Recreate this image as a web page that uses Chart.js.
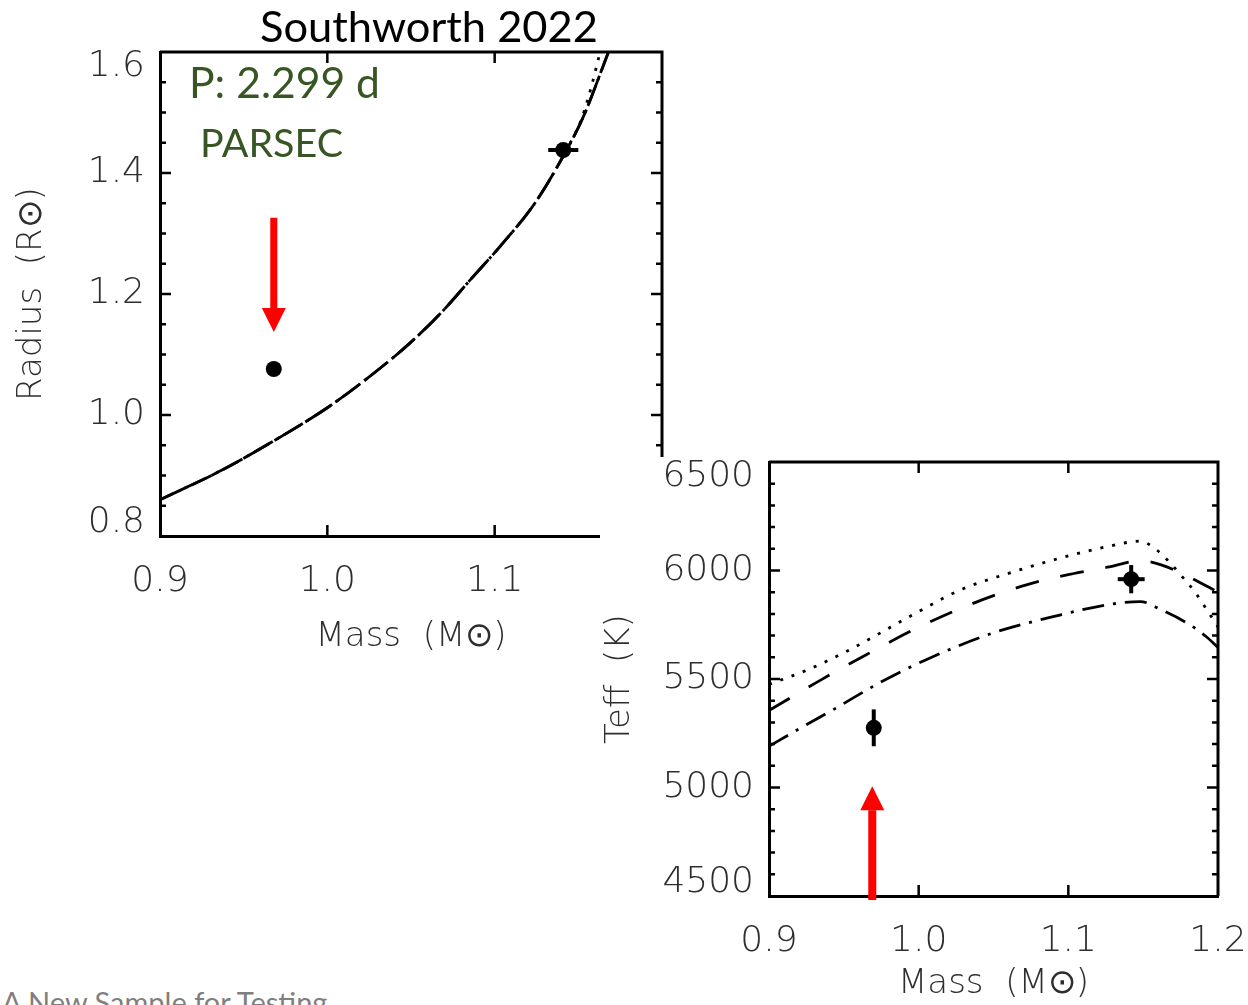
<!DOCTYPE html>
<html>
<head>
<meta charset="utf-8">
<script src="https://cdn.jsdelivr.net/npm/chart.js@4.4.0/dist/chart.umd.min.js"></script>
<style>
  html, body { margin: 0; padding: 0; background: #fff; }
  body { width: 1248px; height: 1005px; position: relative; overflow: hidden; }
  #radiusChart { position: absolute; left: 0; top: 0; }
  #teffChart { position: absolute; left: 600px; top: 420px; }
  #footer { position: absolute; left: 2px; top: 987px; font-family: Lato, 'Open Sans', sans-serif;
            font-size: 29px; line-height: 1; color: #7f7f7f; white-space: nowrap; }
</style>
</head>
<body>
<canvas id="radiusChart" width="700" height="680"></canvas>
<canvas id="teffChart" width="648" height="585"></canvas>
<div id="footer">A New Sample for Testing</div>
<script>
// ---- Radius panel (left) ----
const radiusModelMass = [0.900, 0.935, 0.966, 1.000, 1.025, 1.049, 1.069, 1.085, 1.103, 1.124, 1.142, 1.153, 1.168];
const radiusModel     = [0.860, 0.906, 0.954, 1.012, 1.063, 1.118, 1.172, 1.222, 1.278, 1.350, 1.433, 1.493, 1.600];
const radiusTailMass  = [1.142, 1.152, 1.158, 1.163];
const radiusTail      = [1.433, 1.490, 1.545, 1.600];
const radiusObsMass    = [0.968, 1.141];
const radiusObs        = [1.076, 1.438];
const radiusObsMassErr = [0, 0.009];
const radiusObsErr     = [0, 0.004];
const radiusArrow      = [0.968, 1.326, 1.137];   // mass, tail, tip

// ---- Teff panel (right) ----
const teffDottedMass  = [0.900, 0.926, 0.954, 0.994, 1.028, 1.061, 1.095, 1.126, 1.148, 1.159, 1.168, 1.176, 1.185, 1.192, 1.200];
const teffDotted      = [5475, 5543, 5635, 5788, 5911, 5989, 6058, 6110, 6135, 6095, 6035, 5972, 5897, 5825, 5740];
const teffDashMass    = [0.900, 0.933, 0.965, 0.999, 1.034, 1.072, 1.103, 1.126, 1.148, 1.162, 1.182, 1.200];
const teffDash        = [5355, 5489, 5612, 5735, 5842, 5934, 5985, 6015, 6045, 6026, 5966, 5900];
const teffDashDotMass = [0.900, 0.923, 0.943, 0.974, 1.005, 1.050, 1.095, 1.126, 1.148, 1.162, 1.179, 1.192, 1.200];
const teffDashDot     = [5190, 5282, 5359, 5483, 5589, 5713, 5796, 5842, 5857, 5819, 5759, 5696, 5645];
const teffObsMass    = [0.970, 1.142];
const teffObs        = [5275, 5960];
const teffObsMassErr = [0, 0.009];
const teffObsErr     = [85, 65];
const teffArrow      = [0.969, 4486, 5006];

const massTicks = [0.9, 1.0, 1.1, 1.2];

const tickFont = { family: "'DejaVu Sans'", size: 36, weight: 200 };
const titleFont = { family: "'DejaVu Sans'", size: 34, weight: 200 };
const inkGray = '#2e2e2e';

function xy(xs, ys) { return xs.map((x, i) => ({ x: x, y: ys[i] })); }

function lineSet(xs, ys, dash, offset) {
  return {
    data: xy(xs, ys), showLine: true, pointRadius: 0, borderColor: '#000',
    borderWidth: 2.8, borderDash: dash, borderDashOffset: offset || 0,
    cubicInterpolationMode: 'monotone', fill: false
  };
}

function pointSet(xs, ys) {
  return { data: xy(xs, ys), pointRadius: 8, pointBackgroundColor: '#000', pointBorderWidth: 0, showLine: false };
}

function errorBars(xs, ys, dx, dy) {
  const sets = [];
  xs.forEach((x, i) => {
    if (dx[i] > 0) sets.push({ data: [{ x: x - dx[i], y: ys[i] }, { x: x + dx[i], y: ys[i] }],
      showLine: true, pointRadius: 0, borderColor: '#000', borderWidth: 4 });
    if (dy[i] > 0) sets.push({ data: [{ x: x, y: ys[i] - dy[i] }, { x: x, y: ys[i] + dy[i] }],
      showLine: true, pointRadius: 0, borderColor: '#000', borderWidth: 4 });
  });
  return sets;
}

// top/right frame and inward tick marks
const frame = {
  id: 'frame',
  afterDraw(chart, args, opts) {
    const { ctx, chartArea: a, scales: { x, y } } = chart;
    ctx.save();
    ctx.strokeStyle = '#000';
    ctx.lineWidth = 3;
    ctx.beginPath();
    ctx.moveTo(a.left, a.top); ctx.lineTo(a.right, a.top); ctx.lineTo(a.right, a.bottom);
    ctx.stroke();
    ctx.lineWidth = 2.5;
    ctx.beginPath();
    opts.xMajor.forEach(v => {
      const px = x.getPixelForValue(v);
      ctx.moveTo(px, a.bottom); ctx.lineTo(px, a.bottom - 11);
      ctx.moveTo(px, a.top); ctx.lineTo(px, a.top + 11);
    });
    const n = Math.round((y.max - y.min) / opts.yMinor);
    for (let i = 1; i < n; i++) {
      const v = y.min + i * opts.yMinor;
      const r = v / opts.yMajor;
      const len = Math.abs(r - Math.round(r)) < 1e-6 ? 11 : 6;
      const py = y.getPixelForValue(v);
      ctx.moveTo(a.left, py); ctx.lineTo(a.left + len, py);
      ctx.moveTo(a.right, py); ctx.lineTo(a.right - len, py);
    }
    ctx.stroke();
    ctx.restore();
  }
};

// end labels of the y axis sit inside the frame, as in the original plot
const clampLabels = {
  id: 'clampLabels',
  beforeDraw(chart) {
    const items = chart.scales.y.getLabelItems(chart.chartArea);
    if (!items.length) return;
    items[0].options.translation[1] -= 13;
    items[items.length - 1].options.translation[1] += 15;
  }
};

function fittedText(ctx, text, x, baseline, width, color) {
  ctx.font = "400 100px Lato, 'Open Sans', sans-serif";
  const size = 100 * width / ctx.measureText(text).width;
  ctx.font = "400 " + size + "px Lato, 'Open Sans', sans-serif";
  ctx.fillStyle = color;
  ctx.textAlign = 'left';
  ctx.textBaseline = 'alphabetic';
  ctx.fillText(text, x, baseline);
}

function drawArrow(ctx, px, pFrom, pTip, shaftW) {
  const dir = Math.sign(pTip - pFrom);
  const base = pTip - dir * 24;
  ctx.fillStyle = '#ff0000';
  ctx.fillRect(px - shaftW / 2, Math.min(pFrom, base), shaftW, Math.abs(base - pFrom) + 1);
  ctx.beginPath();
  ctx.moveTo(px - 12, base); ctx.lineTo(px + 12, base); ctx.lineTo(px, pTip);
  ctx.closePath();
  ctx.fill();
}

const radiusNotes = {
  id: 'radiusNotes',
  afterDraw(chart) {
    const { ctx, scales: { x, y } } = chart;
    ctx.save();
    fittedText(ctx, 'Southworth 2022', 260, 42, 338, '#000');
    fittedText(ctx, 'P: 2.299 d', 189, 98, 191, '#375623');
    fittedText(ctx, 'PARSEC', 200, 157, 143, '#375623');
    drawArrow(ctx, x.getPixelForValue(radiusArrow[0]), y.getPixelForValue(radiusArrow[1]),
      y.getPixelForValue(radiusArrow[2]), 7);
    ctx.restore();
  }
};

const teffNotes = {
  id: 'teffNotes',
  beforeDraw(chart) {
    const { ctx, width, height } = chart;
    ctx.save();
    ctx.fillStyle = '#fff';
    ctx.fillRect(0, 37, width, height - 37);
    ctx.restore();
  },
  afterDraw(chart) {
    const { ctx, scales: { x, y } } = chart;
    ctx.save();
    drawArrow(ctx, x.getPixelForValue(teffArrow[0]), y.getPixelForValue(teffArrow[1]),
      y.getPixelForValue(teffArrow[2]), 8);
    ctx.restore();
  }
};

function axes(yMin, yMax, yStep, yDigits, yWidth, xHeight, xTitle, yTitle, xTitlePad, yTitlePad) {
  return {
    x: {
      type: 'linear', min: 0.9, max: 1.2,
      afterBuildTicks: s => { s.ticks = massTicks.map(v => ({ value: v })); },
      afterFit: s => { s.height = xHeight; s.paddingLeft = 0; s.paddingRight = 0; },
      grid: { display: false, drawTicks: false },
      border: { display: true, color: '#000', width: 3 },
      ticks: { font: tickFont, color: inkGray, padding: 24, maxRotation: 0, callback: v => v.toFixed(1) },
      title: { display: true, text: xTitle, font: titleFont, color: inkGray, padding: { top: 0, bottom: xTitlePad } }
    },
    y: {
      type: 'linear', min: yMin, max: yMax,
      ticks: { stepSize: yStep, font: tickFont, color: inkGray, padding: 15, callback: v => v.toFixed(yDigits) },
      afterFit: s => { s.width = yWidth; s.paddingTop = 0; s.paddingBottom = 0; },
      grid: { display: false, drawTicks: false },
      border: { display: true, color: '#000', width: 3 },
      title: { display: true, text: yTitle, font: titleFont, color: inkGray, padding: { top: yTitlePad, bottom: 0 } }
    }
  };
}

const baseOptions = { responsive: false, animation: false, events: [] };

new Chart(document.getElementById('radiusChart'), {
  type: 'scatter',
  data: {
    datasets: [
      pointSet(radiusObsMass, radiusObs),
      ...errorBars(radiusObsMass, radiusObs, radiusObsMassErr, radiusObsErr),
      lineSet(radiusModelMass, radiusModel, [22, 5, 3, 5], 0),
      lineSet(radiusModelMass, radiusModel, [30, 6], 15),
      lineSet(radiusTailMass, radiusTail, [3, 8], 0)
    ]
  },
  options: Object.assign({}, baseOptions, {
    layout: { padding: { left: 0, top: 52, right: 38, bottom: 0 } },
    plugins: {
      legend: { display: false }, tooltip: { enabled: false }, title: { display: false },
      frame: { xMajor: [1.0, 1.1], yMinor: 0.05, yMajor: 0.2 }
    },
    scales: axes(0.8, 1.6, 0.2, 1, 160, 144, 'Mass  (M\u2299)', 'Radius  (R\u2299)', 22, 12)
  }),
  plugins: [frame, clampLabels, radiusNotes]
});

new Chart(document.getElementById('teffChart'), {
  type: 'scatter',
  data: {
    datasets: [
      pointSet(teffObsMass, teffObs),
      ...errorBars(teffObsMass, teffObs, teffObsMassErr, teffObsErr),
      lineSet(teffDottedMass, teffDotted, [3, 9], 0),
      lineSet(teffDashMass, teffDash, [24, 22], 0),
      lineSet(teffDashDotMass, teffDashDot, [22, 9, 3, 9], 0)
    ]
  },
  options: Object.assign({}, baseOptions, {
    layout: { padding: { left: 0, top: 42, right: 30, bottom: 0 } },
    plugins: {
      legend: { display: false }, tooltip: { enabled: false }, title: { display: false },
      frame: { xMajor: [1.0, 1.1], yMinor: 100, yMajor: 500 }
    },
    scales: axes(4500, 6500, 500, 0, 169, 109, 'Mass  (M\u2299)', 'Teff  (K)', 0, 0)
  }),
  plugins: [teffNotes, frame, clampLabels]
});
</script>
</body>
</html>
